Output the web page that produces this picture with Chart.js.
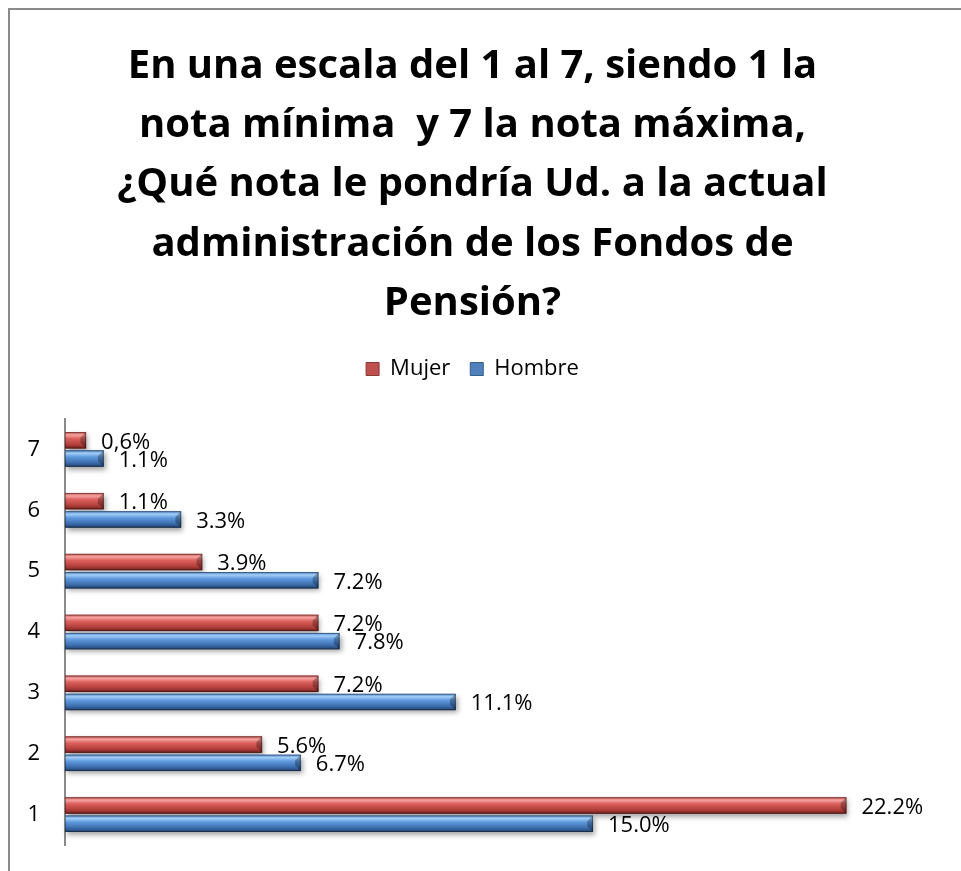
<!DOCTYPE html>
<html>
<head>
<meta charset="utf-8">
<script src="https://cdn.jsdelivr.net/npm/chart.js@4"></script>
<style>
  html, body { margin: 0; padding: 0; background: #fff; overflow: hidden; }
  #frame { position: absolute; left: 8px; top: 8px; width: 1000px; height: 900px; border: 2px solid #8a8a8a; box-sizing: border-box; }
  #wrap { position: absolute; left: 0; top: 0; width: 961px; height: 871px; }
</style>
</head>
<body>
<div id="frame"></div>
<div id="wrap"><canvas id="chart"></canvas></div>
<script>
const notas = ['1', '2', '3', '4', '5', '6', '7'];
const mujer = [22.2, 5.6, 7.2, 7.2, 3.9, 1.1, 0.6];
const hombre = [15.0, 6.7, 11.1, 7.8, 7.2, 3.3, 1.1];
const mujerTexto = ['22.2%', '5.6%', '7.2%', '7.2%', '3.9%', '1.1%', '0,6%'];
const hombreTexto = ['15.0%', '6.7%', '11.1%', '7.8%', '7.2%', '3.3%', '1.1%'];

const FONT = '"Open Sans", Lato, sans-serif';

// shaded "cylinder" look for each bar, drawn on top of the plain bar
const shades = {
  red:  [[0, '#c85450'], [0.18, '#f4a3a0'], [0.4, '#dc605c'], [0.75, '#b4403c'], [1, '#742220']],
  blue: [[0, '#4f86c8'], [0.18, '#a2cdf7'], [0.4, '#5f9ade'], [0.75, '#3c6eae'], [1, '#22426c']]
};

const barShading = {
  id: 'barShading',
  afterDatasetsDraw(chart) {
    const ctx = chart.ctx;
    chart.data.datasets.forEach((ds, i) => {
      const meta = chart.getDatasetMeta(i);
      if (meta.hidden) return;
      const stops = shades[ds.shade];
      meta.data.forEach(bar => {
        const top = bar.y - bar.height / 2;
        const bottom = bar.y + bar.height / 2;
        const left = Math.min(bar.base, bar.x);
        const right = Math.max(bar.base, bar.x);
        const w = right - left;
        ctx.save();
        // soft shadow under the bar
        ctx.shadowColor = 'rgba(0,0,0,0.35)';
        ctx.shadowBlur = 5;
        ctx.shadowOffsetX = 2;
        ctx.shadowOffsetY = 3;
        const g = ctx.createLinearGradient(0, top, 0, bottom);
        stops.forEach(s => g.addColorStop(s[0], s[1]));
        ctx.fillStyle = g;
        ctx.fillRect(left, top, w, bar.height);
        ctx.restore();
        // bevelled end cap
        const b = Math.min(bar.height * 0.35, w / 2);
        ctx.save();
        ctx.fillStyle = 'rgba(0,0,0,0.28)';
        ctx.beginPath();
        ctx.moveTo(right - b, top + b);
        ctx.lineTo(right, top);
        ctx.lineTo(right, bottom);
        ctx.lineTo(right - b, bottom - b);
        ctx.closePath();
        ctx.fill();
        ctx.strokeStyle = 'rgba(0,0,0,0.35)';
        ctx.lineWidth = 1;
        ctx.strokeRect(left + 0.5, top + 0.5, w - 1, bar.height - 1);
        ctx.restore();
      });
    });
  }
};

// value text to the right of each bar
const barValues = {
  id: 'barValues',
  afterDatasetsDraw(chart) {
    const ctx = chart.ctx;
    ctx.save();
    ctx.font = '22px ' + FONT;
    ctx.fillStyle = '#000';
    ctx.textAlign = 'left';
    ctx.textBaseline = 'middle';
    chart.data.datasets.forEach((ds, i) => {
      const meta = chart.getDatasetMeta(i);
      meta.data.forEach((bar, j) => {
        ctx.fillText(ds.texts[j], bar.x + 15, bar.y + 2);
      });
    });
    ctx.restore();
  }
};

// extra room between the legend and the plot
const legendGap = {
  id: 'legendGap',
  beforeInit(chart) {
    const fit = chart.legend.fit;
    chart.legend.fit = function () {
      fit.call(this);
      this.height += 29;
    };
  }
};

new Chart(document.getElementById('chart'), {
  type: 'bar',
  data: {
    labels: notas,
    datasets: [
      { label: 'Mujer', data: mujer, texts: mujerTexto, shade: 'red', backgroundColor: '#c0504d', borderColor: '#8c3836', borderWidth: 1 },
      { label: 'Hombre', data: hombre, texts: hombreTexto, shade: 'blue', backgroundColor: '#4f81bd', borderColor: '#385d8a', borderWidth: 1 }
    ]
  },
  options: {
    indexAxis: 'y',
    responsive: true,
    maintainAspectRatio: false,
    animation: false,
    categoryPercentage: 0.6,
    barPercentage: 0.9,
    layout: { padding: { left: 0, right: 16, top: 0, bottom: 26 } },
    scales: {
      x: { display: false, min: 0, max: 25 },
      y: {
        reverse: true,
        grid: { display: false, drawTicks: false },
        border: { display: true, color: '#8a8a8a', width: 2 },
        ticks: { color: '#000', font: { family: FONT, size: 22 }, padding: 25 },
        afterFit(scale) {
          scale.width = 65;
          scale.paddingTop = 0;
          scale.paddingBottom = 0;
        }
      }
    },
    plugins: {
      title: {
        display: true,
        text: [
          'En una escala del 1 al 7, siendo 1 la',
          'nota mínima  y 7 la nota máxima,',
          '¿Qué nota le pondría Ud. a la actual',
          'administración de los Fondos de',
          'Pensión?'
        ],
        color: '#000',
        font: { family: FONT, size: 40, weight: 'bold', lineHeight: 1.48 },
        padding: { top: 37, bottom: 5 }
      },
      legend: {
        labels: {
          color: '#000',
          font: { family: FONT, size: 22 },
          boxWidth: 13,
          boxHeight: 13,
          padding: 20
        }
      },
      tooltip: { enabled: false }
    }
  },
  plugins: [barShading, barValues, legendGap]
});
</script>
</body>
</html>
